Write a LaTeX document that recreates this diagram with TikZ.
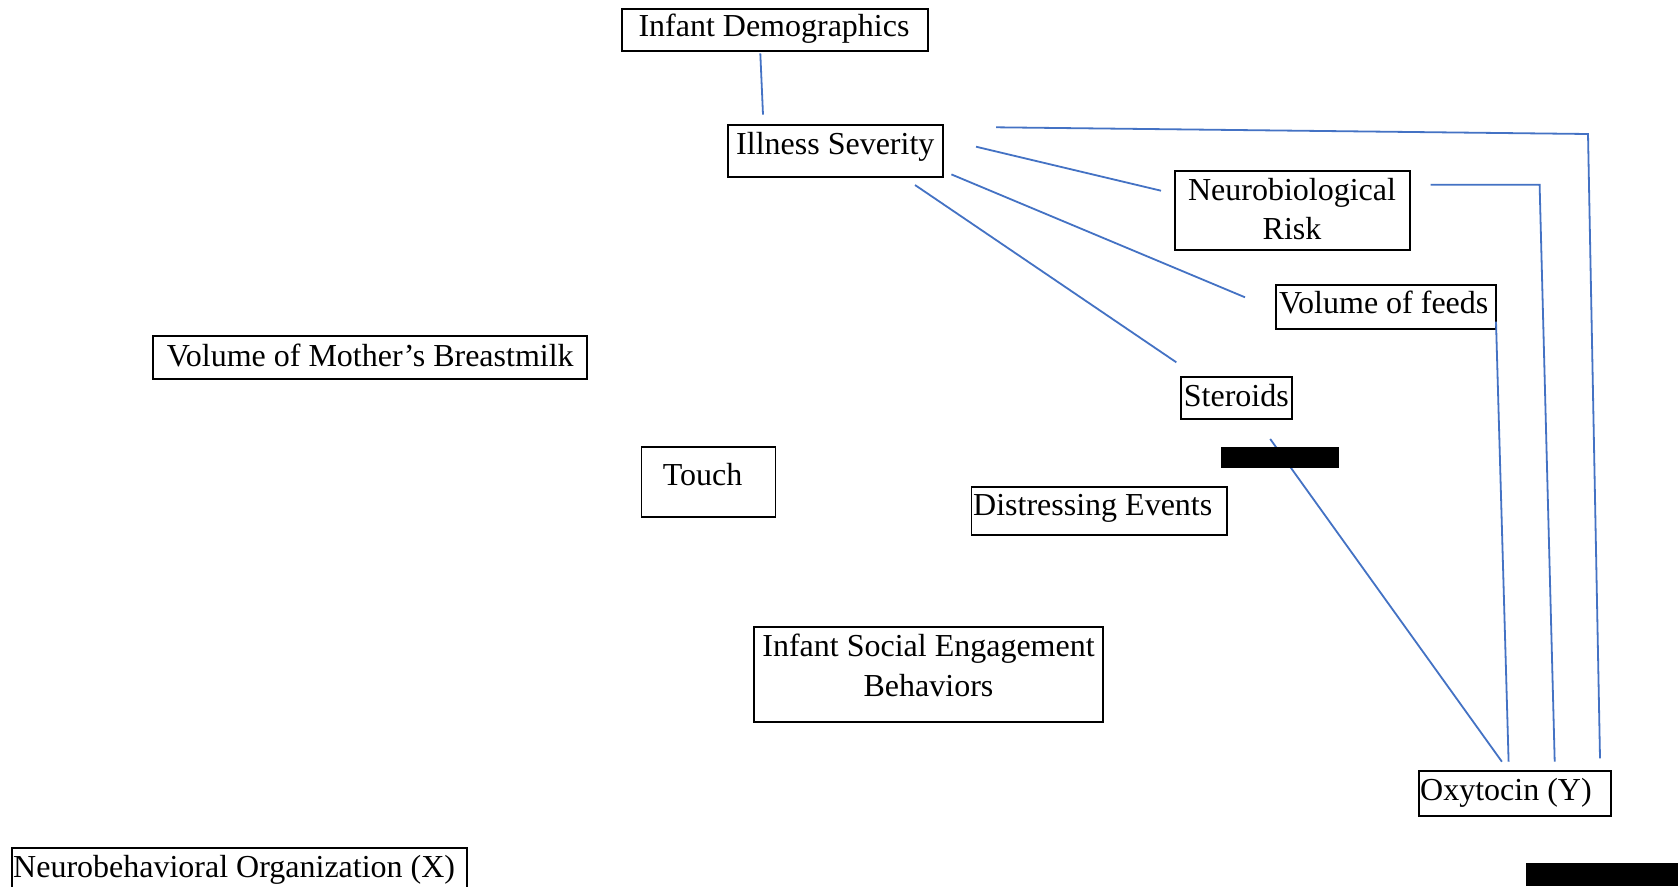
\documentclass[tikz,border=0pt]{standalone}
\usepackage{fontspec}
\setmainfont{Liberation Serif}
\definecolor{linkblue}{HTML}{4472C4}
\begin{document}
\begin{tikzpicture}[x=1pt,y=-1pt,
  box/.style={draw=black,line width=1.4pt,rectangle,inner sep=0pt,minimum width=#1},
  lbl/.style={inner sep=0pt,font=\fontsize{32}{39}\selectfont},
  link/.style={draw=linkblue,line width=1.8pt}]
\clip (0,0) rectangle (1678,886);
\fill[white] (0,0) rectangle (1678,886);
% boxes
\node[box=306pt,minimum height=42pt] (demoB) at (775,30) {};
\node[lbl,anchor=base] (demo) at (774,36.7) {Infant Demographics};
\node[box=215pt,minimum height=52pt] (illB) at (835.5,151) {};
\node[lbl,anchor=base] (ill) at (835.3,154.3) {Illness Severity};
\node[box=235pt,minimum height=79pt] (neuroB) at (1292.5,210.5) {};
\node[lbl,anchor=base,align=center] (neuro) at (1292,239.3) {Neurobiological\\Risk};
\node[box=220pt,minimum height=44pt] (feedsB) at (1386,307) {};
\node[lbl,anchor=base west] (feeds) at (1279,313.3) {Volume of feeds};
\node[box=111pt,minimum height=42pt] (sterB) at (1236.5,398) {};
\node[lbl,anchor=base west] (ster) at (1183.7,406) {Steroids};
\node[box=434pt,minimum height=43pt] (milkB) at (370,357.5) {};
\node[lbl,anchor=base west] (milk) at (166.7,366.7) {Volume of Mother’s Breastmilk};
\node[box=134pt,minimum height=70pt] (touchB) at (708.5,482) {};
\node[lbl,anchor=base] (touch) at (702.5,485) {Touch};
\node[box=255.5pt,minimum height=48pt] (distB) at (1099.2,511) {};
\node[lbl,anchor=base west] (dist) at (973,515) {Distressing Events};
\node[box=349pt,minimum height=95pt] (socB) at (928.5,674.5) {};
\node[lbl,anchor=base,align=center,font=\fontsize{32}{40}\selectfont] (soc) at (928.5,696) {Infant Social Engagement\\Behaviors};
\node[box=192pt,minimum height=45pt] (oxyB) at (1515,793.5) {};
\node[lbl,anchor=base west] (oxy) at (1420,800) {Oxytocin (Y)};
\node[box=455pt,minimum height=70pt] (nboB) at (239.5,883) {};
\node[lbl,anchor=base west] (nbo) at (13,877.5) {Neurobehavioral Organization (X)};
% connector end points
\coordinate (d1) at (760.3,53.3);   \coordinate (i1) at (763,114.7);
\coordinate (i2) at (976,146.7);    \coordinate (n1) at (1161,190.7);
\coordinate (i3) at (951.4,174.4);  \coordinate (f1) at (1245,297.3);
\coordinate (i4) at (915,185);      \coordinate (s1) at (1176.3,362.3);
\coordinate (i5) at (996,127.3);    \coordinate (c1) at (1588,134);   \coordinate (o1) at (1600,758.3);
\coordinate (n2) at (1430.5,184.7); \coordinate (c2) at (1539.6,184.7); \coordinate (o2) at (1554.7,761.7);
\coordinate (f2) at (1496,321.7);   \coordinate (o3) at (1508.6,761.7);
\coordinate (s2) at (1270.2,439);   \coordinate (o4) at (1501.9,761.7);
% connectors
\draw[link] (d1) -- (i1);
\draw[link] (i2) -- (n1);
\draw[link] (i3) -- (f1);
\draw[link] (i4) -- (s1);
\draw[link] (i5) -- (c1) -- (o1);
\draw[link] (n2) -- (c2) -- (o2);
\draw[link] (f2) -- (o3);
\draw[link] (s2) -- (o4);
% redaction bars
\fill[black] (1221,447) rectangle (1339,468);
\fill[black] (1526,863) rectangle (1678,886);
\end{tikzpicture}
\end{document}
